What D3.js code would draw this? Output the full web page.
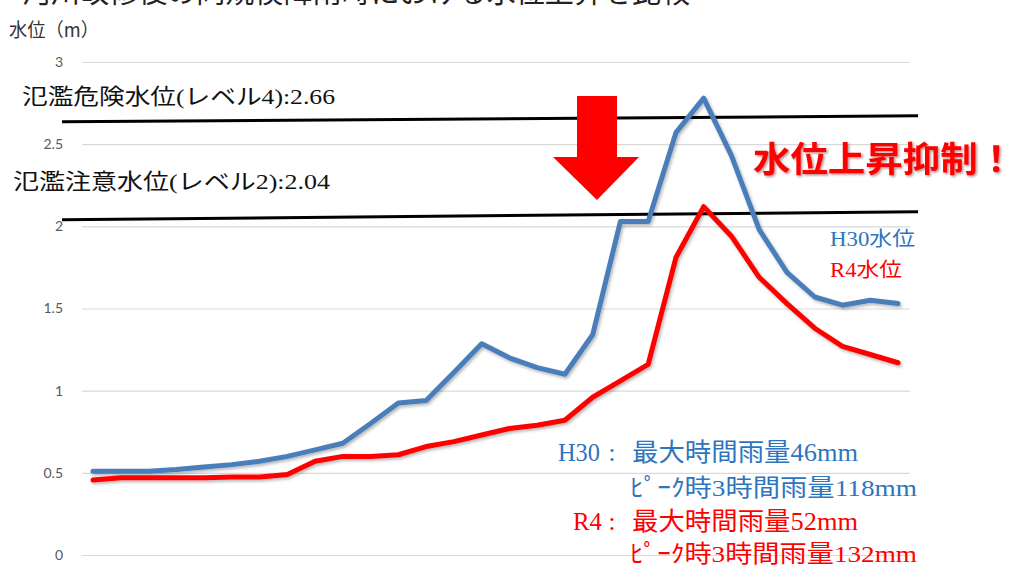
<!DOCTYPE html>
<html><head><meta charset="utf-8">
<script src="https://cdn.jsdelivr.net/npm/d3@7"></script>
<style>
html,body{margin:0;padding:0;background:#fff;overflow:hidden;}
svg{display:block;}
</style></head>
<body>
<svg id="c" width="1018" height="567"></svg>
<script>
// ---- data ----
const categories = d3.range(1, 31).map(String);
const h30Values = [0.51,0.51,0.51,0.52,0.535,0.55,0.57,0.60,0.64,0.68,0.80,0.925,0.94,1.11,1.285,1.20,1.14,1.10,1.34,2.03,2.03,2.57,2.78,2.43,1.98,1.72,1.57,1.52,1.55,1.53];
const r4Values  = [0.456,0.47,0.47,0.47,0.47,0.475,0.475,0.49,0.57,0.60,0.60,0.61,0.66,0.69,0.73,0.77,0.79,0.82,0.96,1.06,1.16,1.81,2.12,1.94,1.69,1.53,1.38,1.27,1.22,1.17];
const yTicks = [0, 0.5, 1, 1.5, 2, 2.5, 3];
const thresholdNames = ["氾濫危険水位(レベル4):2.66", "氾濫注意水位(レベル2):2.04"];
const thresholdValues = [2.66, 2.04];
const seriesNames = ["H30水位", "R4水位"];
const rainPrefix = ["H30", "R4"];
const rainMax = ["最大時間雨量46mm", "最大時間雨量52mm"];
const rainPeak = ["ﾋﾟｰｸ時3時間雨量118mm", "ﾋﾟｰｸ時3時間雨量132mm"];

// ---- layout ----
const svg = d3.select("#c");
const x = d3.scalePoint().domain(categories).range([93, 898]);
const y = d3.scaleLinear().domain([0, 3]).range([555, 62]);
const blue = "#4a7ebb", red = "#ff0000";
const jp = "'Liberation Serif','Noto Sans CJK JP',serif";

const defs = svg.append("defs");
const f = defs.append("filter").attr("id","sh").attr("x","-5%").attr("y","-5%").attr("width","110%").attr("height","120%");
f.append("feDropShadow").attr("dx",1.5).attr("dy",2).attr("stdDeviation",1.5).attr("flood-color","#000").attr("flood-opacity",0.28);
const f2 = defs.append("filter").attr("id","tsh").attr("x","-5%").attr("y","-20%").attr("width","110%").attr("height","140%");
f2.append("feDropShadow").attr("dx",1.5).attr("dy",1.5).attr("stdDeviation",1).attr("flood-color","#600").attr("flood-opacity",0.45);

// clipped title at top (only its lower edge is visible in the original)
svg.append("text").attr("x", 22).attr("y", 3).attr("font-family", "'Noto Sans CJK JP',sans-serif")
  .attr("font-size", 29).attr("fill", "#222").attr("textLength", 668).attr("lengthAdjust","spacingAndGlyphs")
  .text("河川改修後の同規模降雨時における水位上昇を比較");

// y axis title
svg.append("text").attr("x", 9).attr("y", 37).attr("font-family", "'Noto Sans CJK JP',sans-serif")
  .attr("font-size", 19).attr("fill", "#333").attr("textLength", 90).attr("lengthAdjust","spacingAndGlyphs")
  .text("水位（m）");

// grid
const yAxis = d3.axisLeft(y).tickValues(yTicks).tickSize(-(910 - 82)).tickPadding(19).tickFormat(d3.format("~g"));
const g = svg.append("g").attr("transform", "translate(82,0)").call(yAxis);
g.select(".domain").remove();
g.selectAll(".tick line").attr("stroke", "#d9d9d9").attr("stroke-width", 1.2);
g.selectAll(".tick text").attr("fill", "#595959").attr("font-size", 14).attr("font-family", "Lato, 'Open Sans', sans-serif");

// threshold lines (slightly tilted as in original)
const tilt = [[4, -2], [0, -8]];
thresholdValues.forEach((v, i) => {
  svg.append("line").attr("x1", 62).attr("x2", 918)
    .attr("y1", y(v) + tilt[i][0]).attr("y2", y(v) + tilt[i][1])
    .attr("stroke", "#000").attr("stroke-width", 3);
});
const tlab = [[22, 104, 313], [13, 189, 317]];
thresholdNames.forEach((t, i) => {
  svg.append("text").attr("x", tlab[i][0]).attr("y", tlab[i][1]).attr("font-family", jp)
    .attr("font-size", 22).attr("fill", "#111").attr("textLength", tlab[i][2]).attr("lengthAdjust","spacingAndGlyphs").text(t);
});

// lines
const line = d3.line().x((d, i) => x(categories[i])).y(d => y(d));
svg.append("path").datum(h30Values).attr("d", line).attr("fill","none").attr("stroke", blue)
  .attr("stroke-width", 5).attr("stroke-linejoin","round").attr("stroke-linecap","round").attr("filter","url(#sh)");
svg.append("path").datum(r4Values).attr("d", line).attr("fill","none").attr("stroke", red)
  .attr("stroke-width", 5).attr("stroke-linejoin","round").attr("stroke-linecap","round").attr("filter","url(#sh)");

// down arrow
svg.append("path").attr("d", "M577,96 L617,96 L617,157 L639,157 L597,200 L553,157 L577,157 Z").attr("fill", red);

// big red annotation
svg.append("text").attr("x", 753).attr("y", 172).attr("font-family", "'Noto Sans CJK JP',sans-serif").attr("font-weight", 700)
  .attr("font-size", 35).attr("fill", red).attr("filter","url(#tsh)").attr("textLength", 262).attr("lengthAdjust","spacingAndGlyphs")
  .text("水位上昇抑制！");

// series labels
svg.append("text").attr("x", 830).attr("y", 246).attr("font-family", jp).attr("font-size", 20).attr("fill", "#2e75c0")
  .attr("textLength", 85).attr("lengthAdjust","spacingAndGlyphs").text(seriesNames[0]);
svg.append("text").attr("x", 830).attr("y", 277).attr("font-family", jp).attr("font-size", 20).attr("fill", red)
  .attr("textLength", 72).attr("lengthAdjust","spacingAndGlyphs").text(seriesNames[1]);

// rainfall notes
const rc = ["#2e75c0", red];
const rows = [[461, 496], [530, 562]];
const pre = [[558, 42], [573, 29]];
[0, 1].forEach(i => {
  svg.append("text").attr("x", pre[i][0]).attr("y", rows[i][0]).attr("font-family", jp).attr("font-size", 25).attr("fill", rc[i])
    .attr("textLength", pre[i][1]).attr("lengthAdjust","spacingAndGlyphs").text(rainPrefix[i]);
  svg.append("text").attr("x", 612).attr("y", rows[i][0]).attr("font-family", jp).attr("font-size", 25).attr("fill", rc[i])
    .attr("text-anchor","middle").text(":");
  svg.append("text").attr("x", 632).attr("y", rows[i][0]).attr("font-family", jp).attr("font-size", 25).attr("fill", rc[i])
    .attr("textLength", 226).attr("lengthAdjust","spacingAndGlyphs").text(rainMax[i]);
  svg.append("text").attr("x", 630).attr("y", rows[i][1]).attr("font-family", jp).attr("font-size", 24).attr("fill", rc[i])
    .attr("textLength", 287).attr("lengthAdjust","spacingAndGlyphs").text(rainPeak[i]);
});
</script>
</body></html>
